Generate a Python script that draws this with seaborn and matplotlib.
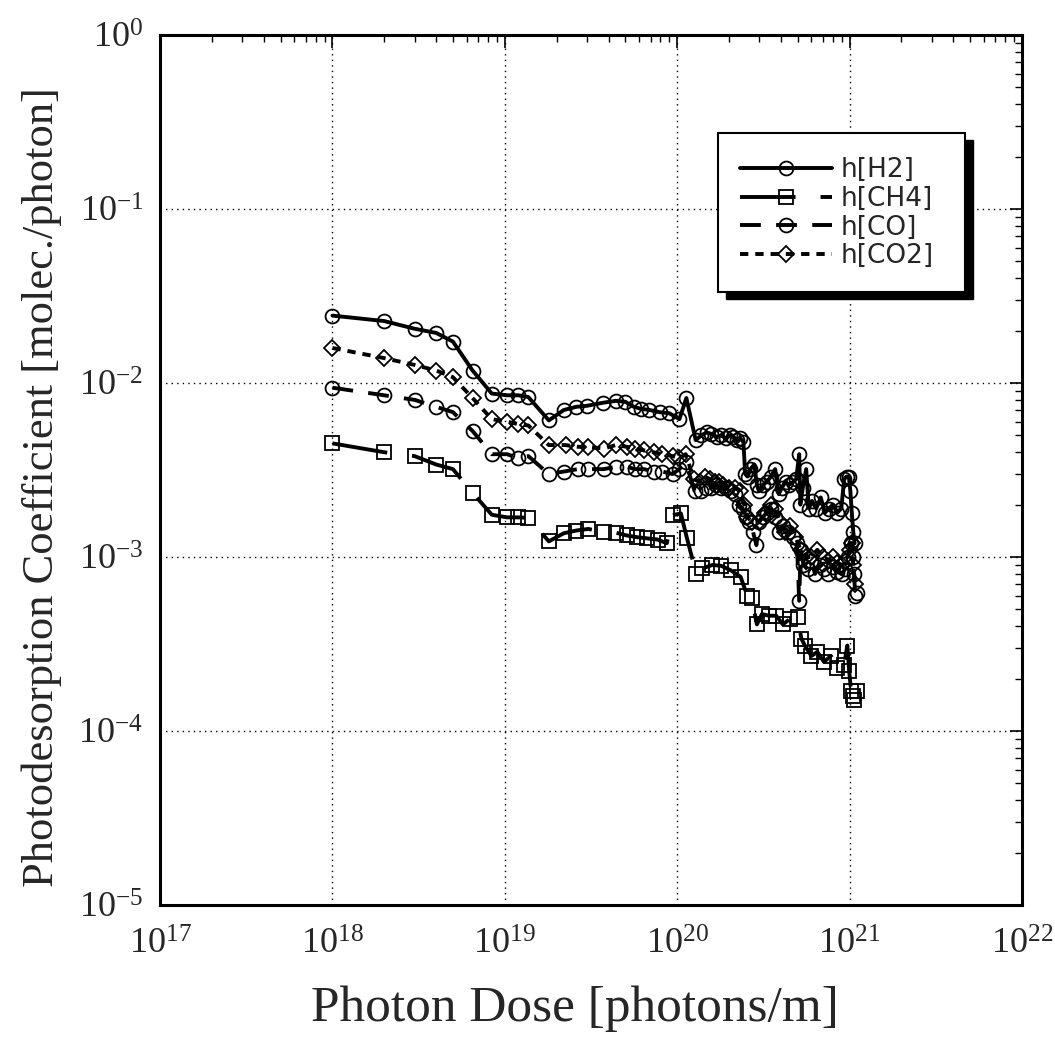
import matplotlib
matplotlib.use("Agg")
import matplotlib.pyplot as plt
import matplotlib.ticker as mtick
from matplotlib.patches import Rectangle
import numpy as np
import pandas as pd
import seaborn as sns

# ---------------------------------------------------------------------------
# Data (photon dose [photons/m], coefficient)
# ---------------------------------------------------------------------------
h2_dose = [1.0e18, 2.0e18, 3.0e18, 4.0e18, 5.0e18, 6.5e18, 8.4e18, 1.03e19, 1.2e19, 1.37e19,
           1.8e19, 2.2e19, 2.6e19, 3.0e19, 3.7e19, 4.4e19, 5.0e19, 5.6e19, 6.2e19, 6.9e19,
           7.9e19, 9.0e19, 1.03e20,
           1.13e20, 1.28e20, 1.38e20, 1.48e20, 1.58e20, 1.70e20, 1.80e20, 1.92e20, 2.02e20,
           2.12e20, 2.22e20, 2.32e20, 2.42e20,
           2.48e20, 2.56e20, 2.66e20, 2.80e20, 2.90e20, 2.98e20, 3.15e20, 3.30e20, 3.50e20,
           3.70e20, 3.88e20, 4.05e20, 4.25e20, 4.45e20, 4.70e20, 4.90e20,
           5.10e20, 5.18e20, 5.35e20, 5.60e20, 5.80e20, 6.05e20, 6.40e20, 6.80e20, 7.20e20,
           7.60e20, 8.00e20, 8.50e20, 8.95e20, 9.30e20, 9.60e20, 9.90e20,
           1.01e21, 1.03e21, 1.05e21, 1.07e21]
h2_coef = [0.0244, 0.0227, 0.0205, 0.0194, 0.0173, 0.0118, 0.0087, 0.0085, 0.0085, 0.0083,
           0.0061, 0.0070, 0.0073, 0.0074, 0.0077, 0.0079, 0.0078, 0.0073, 0.0071, 0.0070,
           0.0068, 0.0067, 0.0062,
           0.0082, 0.0047, 0.0050, 0.0052, 0.0051, 0.0049, 0.0050, 0.0048, 0.0050,
           0.0049, 0.0047, 0.0048, 0.0046,
           0.0030, 0.0029, 0.0032, 0.0034, 0.0026, 0.0024, 0.0026, 0.0027, 0.0029,
           0.0032, 0.0023, 0.0025, 0.0027, 0.0026, 0.0027, 0.0028,
           0.0039, 0.0020, 0.0025, 0.0032, 0.0019, 0.0021, 0.0019, 0.0022, 0.0018,
           0.0019, 0.0020, 0.0018, 0.0019, 0.0028, 0.0029, 0.0029,
           0.0024, 0.0018, 0.0014, 0.0012]

ch4_dose = [1.0e18, 2.0e18, 3.0e18, 4.0e18, 5.0e18, 6.5e18, 8.4e18, 1.03e19, 1.2e19, 1.37e19,
            1.8e19, 2.2e19, 2.6e19, 3.05e19, 3.75e19, 4.4e19, 5.1e19, 5.85e19, 6.7e19, 7.7e19,
            8.7e19, 9.4e19, 1.05e20, 1.14e20,
            1.29e20, 1.40e20, 1.60e20, 1.80e20, 2.04e20, 2.33e20, 2.55e20, 2.70e20, 2.90e20,
            3.10e20, 3.40e20, 3.75e20, 4.10e20, 4.50e20, 5.00e20,
            5.25e20, 5.50e20, 6.00e20, 6.50e20, 7.10e20, 7.80e20, 8.50e20, 9.30e20, 9.70e20,
            9.95e20, 1.02e21, 1.04e21, 1.06e21, 1.10e21]
ch4_coef = [0.0045, 0.0040, 0.0038, 0.0034, 0.0032, 0.00234, 0.00175, 0.00169, 0.00169, 0.00168,
            0.00123, 0.00137, 0.00142, 0.00145, 0.00139, 0.00138, 0.00133, 0.00130, 0.00128, 0.00126,
            0.00120, 0.00174, 0.00178, 0.00128,
            0.00080, 0.00086, 0.00090, 0.00089, 0.00084, 0.00077, 0.00060, 0.00058, 0.00041,
            0.00047, 0.00046, 0.00046, 0.00041, 0.00044, 0.00045,
            0.00034, 0.00031, 0.00027, 0.000285, 0.00025, 0.00027, 0.00023, 0.00024, 0.00031,
            0.00022, 0.00017, 0.00016, 0.00015, 0.00017]

co_dose = [1.0e18, 2.0e18, 3.0e18, 4.0e18, 5.0e18, 6.5e18, 8.4e18, 1.03e19, 1.2e19, 1.37e19,
           1.8e19, 2.2e19, 2.65e19, 3.05e19, 3.75e19, 4.4e19, 5.1e19, 5.7e19, 6.4e19, 7.3e19,
           8.2e19, 9.4e19, 1.03e20, 1.12e20,
           1.26e20, 1.37e20, 1.47e20, 1.57e20, 1.67e20, 1.80e20, 1.92e20, 2.05e20, 2.15e20,
           2.28e20, 2.40e20, 2.52e20, 2.62e20, 2.75e20, 2.88e20,
           3.00e20, 3.15e20, 3.30e20, 3.50e20, 3.70e20, 3.90e20, 4.10e20, 4.40e20, 4.70e20, 4.95e20,
           5.10e20, 5.20e20, 5.40e20, 5.70e20, 6.00e20, 6.30e20, 6.70e20, 7.10e20, 7.50e20, 8.00e20,
           8.50e20, 9.00e20, 9.40e20, 9.80e20, 1.02e21, 1.04e21, 1.06e21, 1.08e21, 1.10e21]
co_coef = [0.0094, 0.0085, 0.0080, 0.0073, 0.0068, 0.0053, 0.0039, 0.0039, 0.0037, 0.0038,
           0.0030, 0.0031, 0.0032, 0.0032, 0.0032, 0.0033, 0.0033, 0.0032, 0.0032, 0.0031,
           0.0031, 0.0030, 0.0032, 0.0035,
           0.0024, 0.0024, 0.0025, 0.0025, 0.0026, 0.0025, 0.0025, 0.0024, 0.0023,
           0.0020, 0.0019, 0.0017, 0.0016, 0.0014, 0.00117,
           0.0016, 0.0017, 0.0018, 0.0019, 0.0017, 0.0014, 0.0015, 0.0014, 0.0013, 0.0012,
           0.00056, 0.0011, 0.0009, 0.00085, 0.00095, 0.0008, 0.0009, 0.00085, 0.0008, 0.00088,
           0.00082, 0.0008, 0.00085, 0.0010, 0.0012, 0.0010, 0.0008, 0.0006, 0.00062]

co2_dose = [1.0e18, 2.0e18, 3.0e18, 4.0e18, 5.0e18, 6.5e18, 8.4e18, 1.03e19, 1.2e19, 1.37e19,
            1.8e19, 2.25e19, 2.65e19, 3.05e19, 3.75e19, 4.4e19, 5.1e19, 5.7e19, 6.4e19, 7.3e19,
            8.2e19, 9.4e19, 1.03e20, 1.12e20,
            1.25e20, 1.35e20, 1.45e20, 1.55e20, 1.65e20, 1.75e20, 1.85e20, 2.00e20, 2.15e20, 2.30e20,
            2.45e20, 2.55e20, 2.70e20, 2.98e20, 3.25e20, 3.50e20, 3.70e20, 3.95e20, 4.20e20,
            4.50e20, 4.85e20,
            5.20e20, 5.60e20, 6.00e20, 6.50e20, 7.00e20, 7.50e20, 8.00e20, 8.50e20, 9.00e20, 9.50e20,
            1.00e21, 1.03e21, 1.05e21, 1.08e21]
co2_coef = [0.0159, 0.0139, 0.0127, 0.0118, 0.0108, 0.0082, 0.0062, 0.0060, 0.0058, 0.0057,
            0.0044, 0.0044, 0.0043, 0.0043, 0.0042, 0.0044, 0.0043, 0.0042, 0.0041, 0.0040,
            0.0039, 0.0038, 0.0037, 0.0039,
            0.0028, 0.0027, 0.0029, 0.0028, 0.0027, 0.0027, 0.0026, 0.0025, 0.0025, 0.0024,
            0.0020, 0.0017, 0.0016, 0.0016, 0.0018, 0.0020, 0.0019, 0.0016, 0.0014,
            0.0015, 0.0013,
            0.0011, 0.0010, 0.0010, 0.0011, 0.0010, 0.00095, 0.0010, 0.00092, 0.0009, 0.00095,
            0.0011, 0.0012, 0.0009, 0.0007]

labels = ["h[H2]", "h[CH4]", "h[CO]", "h[CO2]"]

# ---------------------------------------------------------------------------
# Style
# ---------------------------------------------------------------------------
sns.set_theme(style="white")
plt.rcParams["font.family"] = ["Liberation Serif", "DejaVu Serif"]
plt.rcParams["lines.scale_dashes"] = False

fig = plt.figure(figsize=(10.55, 10.61), dpi=100)
ax = fig.add_axes([0.1517, 0.147, 0.817, 0.820])
ax.set_xscale("log")
ax.set_yscale("log")

series = [
    (h2_dose, h2_coef, "o", "-", 10),
    (ch4_dose, ch4_coef, "s", (0, (40, 18)), 9.5),
    (co_dose, co_coef, "o", (0, (15, 11)), 10),
    (co2_dose, co2_coef, "D", (0, (6, 5)), 8),
]
for (xs, ys, mk, ls, ms), lab in zip(series, labels):
    df = pd.DataFrame({"dose": xs, "coef": ys})
    sns.lineplot(data=df, x="dose", y="coef", ax=ax, estimator=None, sort=False,
                 color="black", linewidth=2.8, linestyle=ls, marker=mk, markersize=ms,
                 markerfacecolor="none", markeredgecolor="black", markeredgewidth=1.3,
                 legend=False)

ax.set_xlim(1e17, 1e22)
ax.set_ylim(1e-5, 1)

# ticks
for axis in (ax.xaxis, ax.yaxis):
    axis.set_major_locator(mtick.LogLocator(base=10, numticks=20))
    axis.set_minor_locator(mtick.LogLocator(base=10, subs=np.arange(2, 10), numticks=20))
    axis.set_minor_formatter(mtick.NullFormatter())

ax.tick_params(which="both", direction="in", top=True, right=True, color="black")
ax.tick_params(which="major", length=9, width=1.2, labelsize=26)
ax.tick_params(axis="x", which="major", pad=17)
ax.tick_params(axis="y", which="major", pad=12)
ax.tick_params(which="minor", length=5, width=1)

for sp in ax.spines.values():
    sp.set_linewidth(2.2)
    sp.set_color("black")

ax.grid(True, which="major", color="black", linestyle=(0, (1, 3)), linewidth=1.0)
ax.grid(False, which="minor")

ax.set_xlabel("Photon Dose [photons/m]", fontsize=37)
ax.set_ylabel("Photodesorption Coefficient [molec./photon]", fontsize=32)
ax.xaxis.set_label_coords(0.481, -0.092)
ax.yaxis.set_label_coords(-0.114, 0.48)

# legend box with drop shadow
bx0, by0, bx1, by1 = 0.647, 0.705, 0.934, 0.887
ax.add_patch(Rectangle((bx0 + 0.0093, by0 - 0.008), bx1 - bx0, by1 - by0, transform=ax.transAxes,
                       facecolor="black", edgecolor="black", zorder=5))
ax.add_patch(Rectangle((bx0, by0), bx1 - bx0, by1 - by0, transform=ax.transAxes,
                       facecolor="white", edgecolor="black", linewidth=1.5, zorder=6))
leg = ax.legend(handles=ax.lines[:4], labels=labels, loc="center", bbox_to_anchor=(0.785, 0.795),
                frameon=False, prop={"family": "DejaVu Sans", "size": 19}, handlelength=3.5,
                handletextpad=0.3, labelspacing=0.1, numpoints=1)
leg.set_zorder(7)

fig.savefig("out.png", dpi=100)
